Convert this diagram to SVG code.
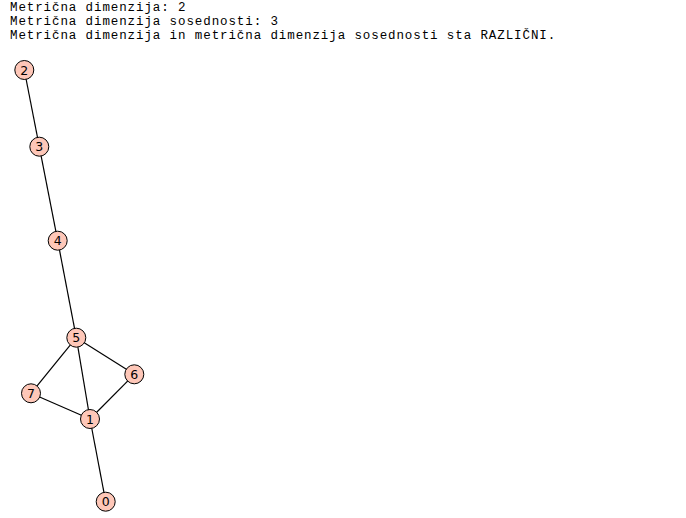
<svg xmlns="http://www.w3.org/2000/svg" width="686" height="518" viewBox="0 0 686 518">
<style>
.t{font-family:"Liberation Mono","Courier New",monospace;font-size:12.5px;letter-spacing:0.9px;fill:#000}
.n circle{fill:#fec7b8;stroke:#000;stroke-width:1}
.n text{font-family:"DejaVu Sans",sans-serif;font-size:12.5px;fill:#000;text-anchor:middle;dominant-baseline:central}
.e line{stroke:#000;stroke-width:1.2}
</style>
<rect width="686" height="518" fill="#fff"/>
<text class="t" x="10" y="10.5">Metrična dimenzija: 2</text>
<text class="t" x="10" y="24.5">Metrična dimenzija sosednosti: 3</text>
<text class="t" x="10" y="38.5">Metrična dimenzija in metrična dimenzija sosednosti sta RAZLIČNI.</text>
<g id="edges" class="e">
<line x1="24.3" y1="70" x2="39.3" y2="146.7"/>
<line x1="39.3" y1="146.7" x2="57.7" y2="240.7"/>
<line x1="57.7" y1="240.7" x2="76.3" y2="337.7"/>
<line x1="76.3" y1="337.7" x2="134.3" y2="374.3"/>
<line x1="76.3" y1="337.7" x2="31" y2="393.3"/>
<line x1="76.3" y1="337.7" x2="90" y2="419"/>
<line x1="134.3" y1="374.3" x2="90" y2="419"/>
<line x1="31" y1="393.3" x2="90" y2="419"/>
<line x1="90" y1="419" x2="105.7" y2="501.7"/>
</g>
<g id="node0" class="n"><circle cx="105.7" cy="501.7" r="9.5"/><text x="105.7" y="501.7">0</text></g>
<g id="node1" class="n"><circle cx="90" cy="419" r="9.5"/><text x="90" y="419">1</text></g>
<g id="node2" class="n"><circle cx="24.3" cy="70" r="9.5"/><text x="24.3" y="70">2</text></g>
<g id="node3" class="n"><circle cx="39.3" cy="146.7" r="9.5"/><text x="39.3" y="146.7">3</text></g>
<g id="node4" class="n"><circle cx="57.7" cy="240.7" r="9.5"/><text x="57.7" y="240.7">4</text></g>
<g id="node5" class="n"><circle cx="76.3" cy="337.7" r="9.5"/><text x="76.3" y="337.7">5</text></g>
<g id="node6" class="n"><circle cx="134.3" cy="374.3" r="9.5"/><text x="134.3" y="374.3">6</text></g>
<g id="node7" class="n"><circle cx="31" cy="393.3" r="9.5"/><text x="31" y="393.3">7</text></g>
</svg>
